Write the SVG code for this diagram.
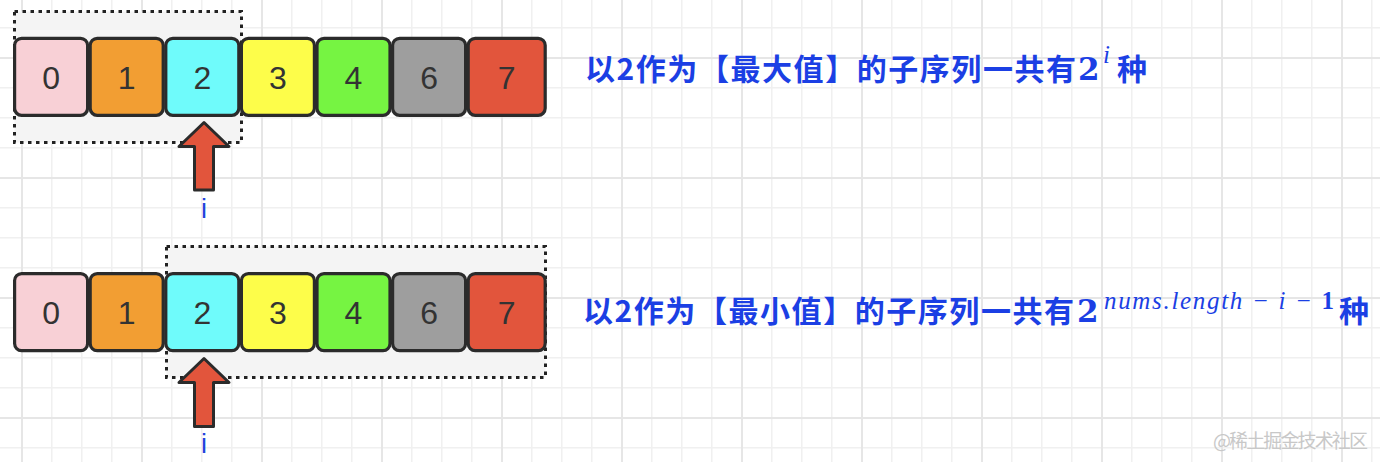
<svg xmlns="http://www.w3.org/2000/svg" width="1380" height="462" viewBox="0 0 1380 462">
<defs>
<pattern id="minor" x="21" y="-3" width="30" height="30" patternUnits="userSpaceOnUse">
<path d="M0.75 0V30M0 0.75H30" stroke="#f0f0f0" stroke-width="1.5" fill="none"/>
</pattern>
<pattern id="major" x="21" y="57" width="120" height="120" patternUnits="userSpaceOnUse">
<path d="M1 0V120M0 1H120" stroke="#e6e6e6" stroke-width="2" fill="none"/>
</pattern>
<style>
.cell{stroke:#2b2b2b;stroke-width:3.2;}
.num{font-family:"Liberation Sans",Arial,sans-serif;font-size:32px;fill:#333;text-anchor:middle;}
.sel{fill:#f4f4f4;stroke:#222;stroke-width:3;stroke-dasharray:3.5 4.5;}
.arrow{fill:#e2553c;stroke:#2b2b2b;stroke-width:3;stroke-linejoin:round;}
.lbl{font-family:"Liberation Sans",Arial,sans-serif;font-size:27px;fill:#2342dc;text-anchor:middle;}
.t{font-family:"Noto Sans CJK SC",sans-serif;font-weight:bold;font-size:30px;fill:#1b3fe4;}
.m{font-family:"DejaVu Serif",serif;font-weight:bold;font-size:31px;fill:#1b3fe4;}
.e{font-family:"Liberation Serif",serif;font-style:italic;font-size:25px;fill:#1b3fe4;}
.wm{font-family:"Noto Sans CJK SC",sans-serif;font-size:19px;fill:#c8c8c8;}
</style>
</defs>
<rect width="1380" height="462" fill="#ffffff"/>
<rect width="1380" height="462" fill="url(#minor)"/>
<rect width="1380" height="462" fill="url(#major)"/>

<g id="selection-top"><rect class="sel" x="14.5" y="11.5" width="227" height="131"/></g>
<g id="selection-bottom"><rect class="sel" x="166.5" y="246.5" width="379" height="131"/></g>

<g id="row-top">
<g id="t0"><rect class="cell" x="14.6" y="38.3" width="73" height="77" rx="7" fill="#f8d0d6"/><text class="num" x="51.1" y="89">0</text></g>
<g id="t1"><rect class="cell" x="90.2" y="38.3" width="73" height="77" rx="7" fill="#f29e33"/><text class="num" x="126.7" y="89">1</text></g>
<g id="t2"><rect class="cell" x="165.8" y="38.3" width="73" height="77" rx="7" fill="#6ffbfb"/><text class="num" x="202.3" y="89">2</text></g>
<g id="t3"><rect class="cell" x="241.4" y="38.3" width="73" height="77" rx="7" fill="#fdfd4a"/><text class="num" x="277.9" y="89">3</text></g>
<g id="t4"><rect class="cell" x="317" y="38.3" width="73" height="77" rx="7" fill="#76f442"/><text class="num" x="353.5" y="89">4</text></g>
<g id="t6"><rect class="cell" x="392.6" y="38.3" width="73" height="77" rx="7" fill="#9e9e9e"/><text class="num" x="429.1" y="89">6</text></g>
<g id="t7"><rect class="cell" x="468.2" y="38.3" width="77" height="77" rx="7" fill="#e2553c"/><text class="num" x="506.7" y="89">7</text></g>
</g>

<g id="row-bottom">
<g id="b0"><rect class="cell" x="14.6" y="273.6" width="73" height="77" rx="7" fill="#f8d0d6"/><text class="num" x="51.1" y="324">0</text></g>
<g id="b1"><rect class="cell" x="90.2" y="273.6" width="73" height="77" rx="7" fill="#f29e33"/><text class="num" x="126.7" y="324">1</text></g>
<g id="b2"><rect class="cell" x="165.8" y="273.6" width="73" height="77" rx="7" fill="#6ffbfb"/><text class="num" x="202.3" y="324">2</text></g>
<g id="b3"><rect class="cell" x="241.4" y="273.6" width="73" height="77" rx="7" fill="#fdfd4a"/><text class="num" x="277.9" y="324">3</text></g>
<g id="b4"><rect class="cell" x="317" y="273.6" width="73" height="77" rx="7" fill="#76f442"/><text class="num" x="353.5" y="324">4</text></g>
<g id="b6"><rect class="cell" x="392.6" y="273.6" width="73" height="77" rx="7" fill="#9e9e9e"/><text class="num" x="429.1" y="324">6</text></g>
<g id="b7"><rect class="cell" x="468.2" y="273.6" width="77" height="77" rx="7" fill="#e2553c"/><text class="num" x="506.7" y="324">7</text></g>
</g>

<g id="connectors">
<path class="arrow" d="M204 122.5L229 146.5H213.5V190H194.5V146.5H179Z"/>
<path class="arrow" d="M204 358.5L229 382.5H213.5V426.5H194.5V382.5H179Z"/>
</g>

<g id="label-i-top"><text class="lbl" x="204" y="218">i</text></g>
<g id="label-i-bottom"><text class="lbl" x="204" y="453">i</text></g>

<g id="caption-top">
<text class="t" x="585" y="80" textLength="491" lengthAdjust="spacing">以2作为【最大值】的子序列一共有</text>
<text class="m" x="1078" y="80">2</text>
<text class="e" x="1103" y="63">i</text>
<text class="t" x="1117" y="80">种</text>
</g>

<g id="caption-bottom">
<text class="t" x="583" y="322" textLength="491" lengthAdjust="spacing">以2作为【最小值】的子序列一共有</text>
<text class="m" x="1077" y="322">2</text>
<text class="e" x="1104" y="309" textLength="230" lengthAdjust="spacing">nums.length − i − <tspan font-style="normal" font-weight="bold">1</tspan></text>
<text class="t" x="1339" y="322">种</text>
</g>

<g id="watermark"><text class="wm" x="1213" y="448" textLength="155" lengthAdjust="spacing">@稀土掘金技术社区</text></g>
</svg>
